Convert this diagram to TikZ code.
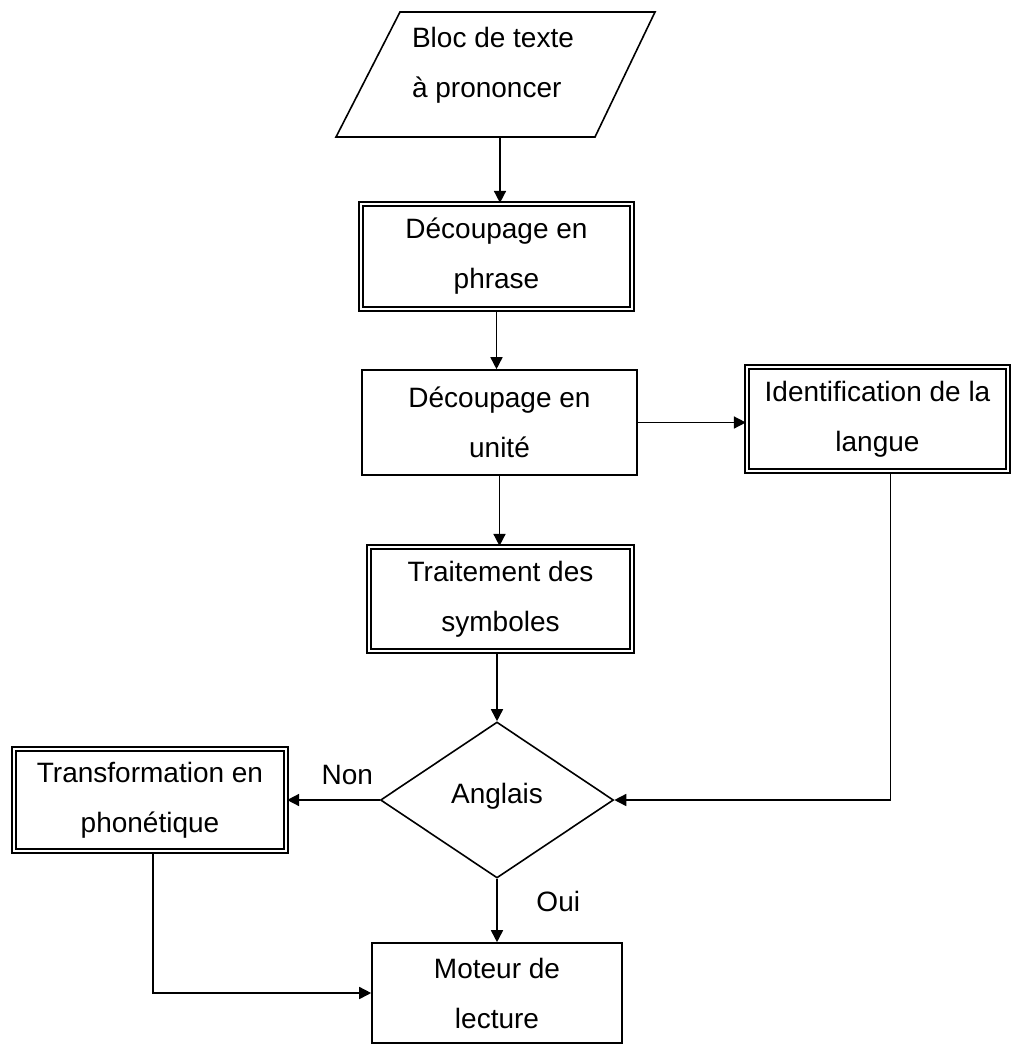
\documentclass[tikz,border=0pt]{standalone}
\usepackage{fontspec}
\setmainfont{Liberation Sans}
\usetikzlibrary{shapes.geometric,arrows.meta}

\begin{document}
\begin{tikzpicture}[x=0.5pt,y=-0.5pt,
		every node/.style={font=\fontsize{14pt}{25pt}\selectfont, align=center},
		sbox/.style={draw, line width=0.8pt, inner sep=0pt},
		dbox/.style={draw, double, double distance=1.2pt, line width=1.1pt, inner sep=0pt},
		arr/.style={line width=0.8pt, -{Triangle[length=6pt,width=6pt]}}]
		\useasboundingbox (0,0) rectangle (1013,1045);
		%\fill[lightgray] (0,0) rectangle (1013,1045);
		\draw[line width=0.8pt] (400,12)--(655,12)--(595,137)--(336,137)--cycle;
		\node[align=left] (bloc) at (493,65) {Bloc de texte\\à prononcer};
		\coordinate (blocb) at (500,137);
		
		\node[dbox, minimum width=135.5pt, minimum height=52.5pt] (phrase) at (496.5,256.5) {Découpage en\\phrase};
		\node[sbox, minimum width=137.5pt, minimum height=52.5pt] (unite) at (499.5,422.5) {Découpage en\\unité};
		\node[dbox, minimum width=130.5pt, minimum height=52pt] (ident) at (877.5,419) {Identification de la\\langue};
		\node[dbox, minimum width=131.5pt, minimum height=52pt] (symb) at (500.5,599) {Traitement des\\symboles};
		\node[draw, diamond, line width=0.8pt, inner sep=0pt, minimum width=116.5pt, minimum height=78pt] (anglais) at (497,800) {\raisebox{7pt}{Anglais}};
		\node[dbox, minimum width=136pt, minimum height=51pt] (phon) at (150,800) {Transformation en\\phonétique};
		\node[sbox, minimum width=125pt, minimum height=50pt] (moteur) at (497,993) {Moteur de\\lecture};
		
		\draw[arr] (blocb) -- (blocb |- phrase.north);
		\draw[arr] (phrase.south) -- (phrase.south |- unite.north);
		\draw[arr] (unite.east) -- (unite.east -| ident.west);
		\draw[arr] (unite.south) -- (unite.south |- symb.north);
		\draw[arr] (anglais.north |- symb.south) -- (anglais.north);
		\draw[arr] ([xshift=6.5pt]ident.south) |- (anglais.east);
		\draw[arr] (anglais.west) -- (phon.east) node[pos=0.35,above=4pt]{Non};
		\draw[arr] (anglais.south) -- (moteur.north) node[pos=0.35,right=16pt]{Oui};
		\draw[arr] ([xshift=1.5pt]phon.south) |- (moteur.west);
	\end{tikzpicture}
\end{document}
